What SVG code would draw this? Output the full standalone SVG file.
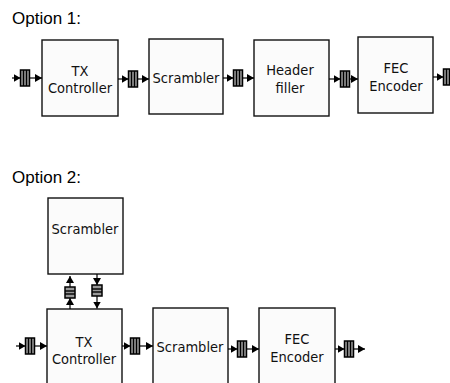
<svg xmlns="http://www.w3.org/2000/svg" xmlns:xlink="http://www.w3.org/1999/xlink" width="450" height="383" viewBox="0 0 450 383">
<style>
.title{font-family:"Liberation Sans",Arial,sans-serif;font-size:17px;fill:#000}
.box{fill:#fbfbfb;stroke:#111;stroke-width:1.4}
.lbl{font-family:"DejaVu Sans Condensed","DejaVu Sans",sans-serif;font-size:14.5px;fill:#111;text-anchor:middle}
.wire{fill:none;stroke:#000;stroke-width:1.2;marker-end:url(#ah)}
.fb{fill:#999;stroke:#000;stroke-width:1.5}
.fl{stroke:#000;stroke-width:1.4}
</style>
<defs>
<marker id="ah" markerUnits="userSpaceOnUse" markerWidth="9" markerHeight="9" refX="7" refY="4" orient="auto">
<path d="M0,0 L7,4 L0,8 z" fill="#000"/>
</marker>
<g id="fifoH">
<rect class="fb" x="-4.5" y="-8" width="9" height="16"/>
<line class="fl" x1="-1.5" y1="-8" x2="-1.5" y2="8"/>
<line class="fl" x1="1.5" y1="-8" x2="1.5" y2="8"/>
</g>
<g id="fifoV">
<rect class="fb" x="-5" y="-5.5" width="10" height="11"/>
<line class="fl" x1="-5" y1="-1.5" x2="5" y2="-1.5"/>
<line class="fl" x1="-5" y1="1.5" x2="5" y2="1.5"/>
</g>
</defs>

<text class="title" x="12" y="24">Option 1:</text>
<text class="title" x="12" y="183">Option 2:</text>

<g id="opt1-tx"><rect class="box" x="42" y="40" width="76" height="76"/><text class="lbl" x="80" y="76">TX</text><text class="lbl" x="80" y="93">Controller</text></g>
<g id="opt1-scrambler"><rect class="box" x="149" y="39" width="74" height="75"/><text class="lbl" x="186" y="83">Scrambler</text></g>
<g id="opt1-header"><rect class="box" x="254" y="40" width="75" height="76"/><text class="lbl" x="290" y="75">Header</text><text class="lbl" x="290" y="93">filler</text></g>
<g id="opt1-fec"><rect class="box" x="358" y="37" width="75" height="76"/><text class="lbl" x="396" y="73">FEC</text><text class="lbl" x="396" y="91">Encoder</text></g>

<g id="opt2-scrambler-top"><rect class="box" x="48" y="198" width="75" height="76"/><text class="lbl" x="85" y="234">Scrambler</text></g>
<g id="opt2-tx"><rect class="box" x="47" y="309" width="75" height="80"/><text class="lbl" x="84" y="347">TX</text><text class="lbl" x="84" y="364">Controller</text></g>
<g id="opt2-scrambler"><rect class="box" x="153" y="308" width="75" height="80"/><text class="lbl" x="190" y="352">Scrambler</text></g>
<g id="opt2-fec"><rect class="box" x="259" y="308" width="76" height="80"/><text class="lbl" x="297" y="344">FEC</text><text class="lbl" x="297" y="362">Encoder</text></g>

<g id="connectors">
<!-- Option 1 -->
<path class="wire" d="M12,78 H20.5"/>
<use href="#fifoH" transform="translate(25,78)"/>
<path class="wire" d="M29.5,78 H42"/>

<path class="wire" d="M118,79 H128.5"/>
<use href="#fifoH" transform="translate(133,79)"/>
<path class="wire" d="M137.5,79 H149"/>

<path class="wire" d="M223,78 H233.5"/>
<use href="#fifoH" transform="translate(238,78)"/>
<path class="wire" d="M242.5,78 H254"/>

<path class="wire" d="M329,79 H340.5"/>
<use href="#fifoH" transform="translate(345,79)"/>
<path class="wire" d="M349.5,79 H358"/>

<path class="wire" d="M433,77 H443.5"/>
<use href="#fifoH" transform="translate(448,77)"/>

<!-- Option 2 -->
<path class="wire" d="M16,346 H25.5"/>
<use href="#fifoH" transform="translate(30,346)"/>
<path class="wire" d="M34.5,346 H47"/>

<path class="wire" d="M122,346 H130.5"/>
<use href="#fifoH" transform="translate(135,346)"/>
<path class="wire" d="M139.5,346 H153"/>

<path class="wire" d="M228,349 H237.5"/>
<use href="#fifoH" transform="translate(242,349)"/>
<path class="wire" d="M246.5,349 H259"/>

<path class="wire" d="M335,349 H344.5"/>
<use href="#fifoH" transform="translate(349,349)"/>
<path class="wire" d="M353.5,349 H365"/>

<!-- vertical: TX -> top scrambler -->
<path class="wire" d="M70,309 V298"/>
<use href="#fifoV" transform="translate(70,292.5)"/>
<path class="wire" d="M70,287 V276"/>

<!-- vertical: top scrambler -> TX -->
<path class="wire" d="M97,274 V285"/>
<use href="#fifoV" transform="translate(97,290.5)"/>
<path class="wire" d="M97,296 V308.5"/>
</g>
</svg>
